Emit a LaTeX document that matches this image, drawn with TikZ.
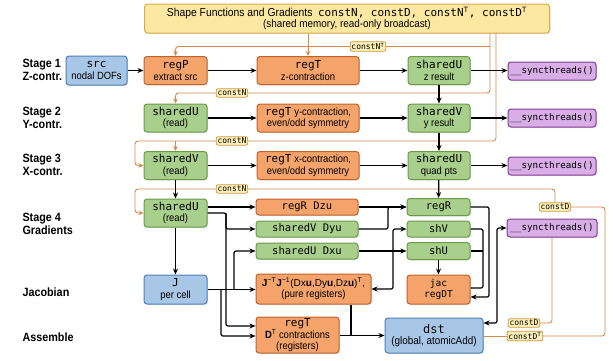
\documentclass[tikz,border=0pt]{standalone}
\usepackage{fontspec}
\setmainfont{Liberation Sans}
\newfontfamily\narrowsf[FakeStretch=0.9]{Liberation Sans}
\setmonofont{DejaVu Sans Mono}
\usetikzlibrary{arrows.meta,calc,shadows}
\definecolor{bluef}{HTML}{A8C7E6}
\definecolor{blued}{HTML}{4F7FB8}
\definecolor{orangef}{HTML}{F4A36B}
\definecolor{oranged}{HTML}{C0622A}
\definecolor{greenf}{HTML}{A8CF8C}
\definecolor{greend}{HTML}{6B9A4B}
\definecolor{purplef}{HTML}{D9AEE6}
\definecolor{purpled}{HTML}{7E3F96}
\definecolor{yellowf}{HTML}{FCE8A0}
\definecolor{yellowd}{HTML}{D8AC48}
\definecolor{labf}{HTML}{FDF0B8}
\definecolor{labd}{HTML}{CF9A45}
\definecolor{oline}{HTML}{D28A4A}
\newcommand\mtt[1]{{\ttfamily\fontsize{11}{12}\selectfont #1}}
\newcommand\mts[1]{{\ttfamily\fontsize{10.5}{12}\selectfont #1}}
\newcommand\stx[1]{{\narrowsf\fontsize{10.5}{11}\selectfont #1}}
\newcommand\syn{{\ttfamily\fontsize{9.2}{11}\selectfont \_\_syncthreads()}}
\begin{document}
\begin{tikzpicture}[x=1pt,y=-1pt,
  box/.style={draw, rounded corners=3pt, line width=1pt, align=center, inner sep=1pt,
    font=\fontsize{10}{11.5}\selectfont,
    drop shadow={opacity=0.2, shadow xshift=1pt, shadow yshift=-1pt}},
  sz/.style 2 args={minimum width=#1, minimum height=#2},
  bluebox/.style={box, fill=bluef, draw=blued},
  orbox/.style={box, fill=orangef, draw=oranged},
  grbox/.style={box, fill=greenf, draw=greend},
  pubox/.style={box, fill=purplef, draw=purpled},
  yebox/.style={box, fill=yellowf, draw=yellowd},
  lab/.style={draw=labd, fill=labf, rounded corners=2pt, line width=0.8pt, inner sep=1.3pt,
    font=\ttfamily\fontsize{8}{9}\selectfont},
  stage/.style={anchor=west, align=left, font=\narrowsf\bfseries\fontsize{12}{13.5}\selectfont},
  oln/.style={draw=oline, line width=0.9pt, rounded corners=3pt},
  oarr/.style={oln, -{Stealth[length=5pt,width=4.5pt]}},
  bln/.style={draw=black, line width=1.2pt, rounded corners=2pt},
  barr/.style={bln, -{Stealth[length=6pt,width=5pt]}},
  bboth/.style={bln, {Stealth[length=6pt,width=5pt]}-{Stealth[length=6pt,width=5pt]}}
]
\useasboundingbox[fill=white] (0,0) rectangle (613,360);

% stage labels
\node[stage] (s1) at (19,70) {Stage 1\\Z-contr.};
\node[stage] (s2) at (19,118) {Stage 2\\Y-contr.};
\node[stage] (s3) at (19,165) {Stage 3\\X-contr.};
\node[stage] (s4) at (19,224) {Stage 4\\Gradients};
\node[stage] (s5) at (19,292) {Jacobian};
\node[stage] (s6) at (19,337) {Assemble};

% top box
\node[yebox, sz={405pt}{29pt}] (top) at (347,18.5)
  {{\narrowsf\fontsize{11.5}{12}\selectfont Shape Functions and Gradients}\ \ {\ttfamily\fontsize{11}{12}\selectfont constN, constD, constN\textsuperscript{\rmfamily T}, constD\textsuperscript{\rmfamily T}}\\[-1pt]
   {\narrowsf\fontsize{11}{12}\selectfont (shared memory, read-only broadcast)}};

% row 1
\node[bluebox, sz={61pt}{29pt}] (src) at (96.5,70.5) {\mtt{src}\\\stx{nodal DOFs}};
\node[orbox, sz={63pt}{28pt}] (regP) at (175.5,70.5) {\mtt{regP}\\\stx{extract src}};
\node[orbox, sz={102pt}{28pt}] (regT1) at (308,70.5) {\mtt{regT}\\\stx{z-contraction}};
\node[grbox, sz={62pt}{28pt}] (shU1) at (439,70.5) {\mtt{sharedU}\\\stx{z result}};
\node[pubox, sz={88pt}{18pt}] (sync1) at (552,71) {\syn};

% row 2
\node[grbox, sz={63pt}{28pt}] (shUr2) at (175.5,118) {\mtt{sharedU}\\\stx{(read)}};
\node[orbox, sz={102pt}{28pt}] (regT2) at (308,118) {\mtt{regT} \stx{y-contraction,}\\\stx{even/odd symmetry}};
\node[grbox, sz={62pt}{28pt}] (shV2) at (439,118) {\mtt{sharedV}\\\stx{y result}};
\node[pubox, sz={88pt}{18pt}] (sync2) at (552,118) {\syn};

% row 3
\node[grbox, sz={63pt}{28pt}] (shVr3) at (175.5,165.5) {\mtt{sharedV}\\\stx{(read)}};
\node[orbox, sz={102pt}{28pt}] (regT3) at (308,165.5) {\mtt{regT} \stx{x-contraction,}\\\stx{even/odd symmetry}};
\node[grbox, sz={62pt}{28pt}] (shU3) at (439,165.5) {\mtt{sharedU}\\\stx{quad pts}};
\node[pubox, sz={88pt}{18pt}] (sync3) at (552,166) {\syn};

% row 4
\node[grbox, sz={63pt}{28pt}] (shUr4) at (175.5,213) {\mtt{sharedU}\\\stx{(read)}};
\node[orbox, sz={102pt}{16pt}] (regRDzu) at (307,207) {\mts{regR Dzu}};
\node[grbox, sz={102pt}{16pt}] (shVDyu) at (307,229) {\mts{sharedV Dyu}};
\node[grbox, sz={102pt}{16pt}] (shUDxu) at (307,251) {\mts{sharedU Dxu}};
\node[grbox, sz={63pt}{17pt}] (regR) at (438.5,207) {\mts{regR}};
\node[grbox, sz={63pt}{16pt}] (shV) at (438.5,229) {\mts{shV}};
\node[grbox, sz={63pt}{17pt}] (shU) at (438.5,251) {\mts{shU}};
\node[pubox, sz={90pt}{18pt}] (sync4) at (552,228) {\syn};

% Jacobian row
\node[orbox, sz={115pt}{30pt}] (Jinv) at (313.5,289)
  {{\fontsize{10}{11.5}\selectfont\textbf{J}\textsuperscript{−T}\textbf{J}\textsuperscript{−1}(Dx\textbf{u},Dy\textbf{u},Dz\textbf{u})\textsuperscript{T},}\\\stx{(pure registers)}};
\node[bluebox, sz={63pt}{29pt}] (J) at (175.5,289.5) {\mtt{J}\\\stx{per cell}};
\node[orbox, sz={63pt}{29pt}] (jac) at (438.5,289.5) {{\ttfamily\fontsize{9.5}{11}\selectfont jac}\\{\ttfamily\fontsize{9.5}{11}\selectfont regDT}};

% Assemble row
\node[orbox, sz={83pt}{36pt}, font=\fontsize{10}{10.5}\selectfont] (regTD) at (297.5,335)
  {\mtt{regT}\\\stx{\textbf{D}\textsuperscript{T} contractions}\\\stx{(registers)}};
\node[bluebox, sz={98pt}{35pt}] (dst) at (434,335.5)
  {{\ttfamily\fontsize{12}{13}\selectfont dst}\\{\narrowsf\fontsize{11}{12}\selectfont (global, atomicAdd)}};

% labels on constant lines
\node[lab] (cNT) at (368,46.5) {constN\textsuperscript{\rmfamily T}};
\node[lab] (cN2) at (232,93) {constN};
\node[lab] (cN3) at (232,141) {constN};
\node[lab] (cN4) at (232,189) {constN};
\node[lab] (cD1) at (555,207) {constD};
\node[lab] (cD2) at (524,323) {constD};
\node[lab] (cDT) at (525,336) {constD\textsuperscript{\rmfamily T}};

% orange constant lines
\coordinate (tB) at (490,33);
\coordinate (tC) at (496,33);
\draw[oarr] (regT1.north |- top.south) -- (regT1.north);
\draw[oln] (tB) |- (cN2.east);
\draw[oarr] (cN2.west) -| (shUr2.north);
\draw[oln] (tB |- cNT) -- (cNT.east);
\draw[oarr] (cNT.west) -| (regP.north);
\draw[oln] (tC) |- (cN3.east);
\draw[oarr] (cN3.west) -- (135,141) |- (shVr3.west);
\draw[oarr] (shVr3.north |- cN3) -- (shVr3.north);
\draw[oarr] (cN4.west) -- (135,189) |- (shUr4.west);
\draw[oln] (cN4.east) -| (cD1.north);
\draw[oln] (cD1.east) -- (605,207) |- (cDT.east);
\draw[oln] (cDT.west) -- (cDT.west -| dst.east);
\draw[oln] (sync4.south) |- (cD2.east);

% black flow: stages 1-3
\draw[barr] (src) -- (regP);
\draw[barr] (regP) -- (regT1);
\draw[barr] (regT1) -- (shU1);
\draw[barr] (shU1.east) -- (shU1.east -| sync1.west);
\draw[barr] (shU1) -- (shV2);
\draw[barr] (shUr2) -- (regT2);
\draw[barr] (regT2) -- (shV2);
\draw[barr] (shV2.east) -- (shV2.east -| sync2.west);
\draw[barr] (shV2) -- (shU3);
\draw[barr] (shVr3) -- (regT3);
\draw[barr] (regT3) -- (shU3);
\draw[barr] (shU3.east) -- (shU3.east -| sync3.west);
\draw[barr] (shVr3) -- (shUr4);
\draw[barr] (shU3) -- (regR);

% stage 4
\draw[barr] (shUr4.east |- regRDzu) -- (regRDzu.west);
\draw[barr] (shUr4.east) -- (226,213) |- (shVDyu.west);
\draw[barr] (226,213) |- ($(regTD.west)+(0,-9)$);
\draw[barr] (shUr4) -- (J);
\draw[barr] (J.east) -- (J.east -| Jinv.west);
\draw[barr] (221,289.5) |- ($(regTD.west)+(0,1)$);
\draw[barr] (234,289.5) |- (shUDxu.west);
\draw[barr] (regRDzu) -- (regR);
\draw[barr] (shVDyu.east) -| (388,207) -- (regR.west);
\draw[barr] (shUDxu) -- (shU);
\draw[bboth] (Jinv.east) -- (393,289) |- (shV.west);
\draw[barr] (shU) -- (jac);
\draw[barr] (regR.east) -- (489,207) |- ($(jac.east)+(0,7.5)$);
\draw[bln] (shV.east) -- (483,229) |- ($(jac.east)+(0,-1.5)$);
\draw[bln] (shU.east) -- (483,251);
\draw[bln] ($(Jinv.south)+(37.5,0)$) -- (351,335.5);
\draw[barr] (regTD.east |- dst.west) -- (dst.west);
\draw[bboth] ($(dst.east)+(0,-12.5)$) -- (497,323) |- (sync4.west);
\end{tikzpicture}
\end{document}
